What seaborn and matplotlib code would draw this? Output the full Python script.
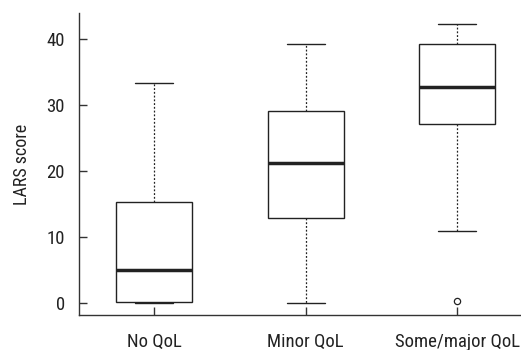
import matplotlib
matplotlib.use("Agg")
import matplotlib.pyplot as plt
import seaborn as sns
import pandas as pd

categories = ["No QoL", "Minor QoL", "Some/major QoL"]
whisker_low = [0.0, 0.0, 10.9]
q1 = [0.1, 12.9, 27.1]
median = [5.0, 21.2, 32.7]
q3 = [15.3, 29.1, 39.2]
whisker_high = [33.3, 39.2, 42.3]
outlier_cat = ["Some/major QoL"]
outlier_val = [0.3]
yticks = [0, 10, 20, 30, 40]

rows = []
for c, lo, a, m, b, hi in zip(categories, whisker_low, q1, median, q3, whisker_high):
    for v in (lo, a, m, b, hi):
        rows.append({"group": c, "LARS": v})
df = pd.DataFrame(rows)
df_out = pd.DataFrame({"group": outlier_cat, "LARS": outlier_val})

sns.set_style("ticks")
plt.rcParams["font.family"] = ["Roboto Condensed", "DejaVu Sans"]

fig = plt.figure(figsize=(5.21, 3.5), dpi=100)
ax = fig.add_axes([79/521, 1-315/350, 1-79/521, (315-13)/350])

line_c = "#222222"
sns.boxplot(data=df, x="group", y="LARS", order=categories, ax=ax,
            width=0.5, color="white", linecolor=line_c, linewidth=1.0,
            showfliers=False, whis=1.5,
            medianprops=dict(color=line_c, linewidth=2.5),
            whiskerprops=dict(color=line_c, linewidth=0.9, linestyle=(0, (1.5, 1.5))),
            capprops=dict(color=line_c, linewidth=1.0),
            capwidths=0.25)
sns.stripplot(data=df_out, x="group", y="LARS", order=categories, ax=ax,
              jitter=False, marker="o", size=4.5, color="white",
              edgecolor=line_c, linewidth=0.9)

ax.set_xlim(-0.495, 2.42)
ax.set_ylim(-1.8, 43.9)
ax.set_yticks(yticks)
ax.set_xlabel("")
ax.set_ylabel("LARS score", fontsize=13, color="#222222", labelpad=11)
ax.tick_params(axis="both", direction="in", length=6, width=1, color="#333333",
               labelsize=13.5, labelcolor="#222222")
ax.tick_params(axis="x", pad=13)
ax.tick_params(axis="y", pad=10)
for s in ("top", "right"):
    ax.spines[s].set_visible(False)
for s in ("left", "bottom"):
    ax.spines[s].set_color("#333333")
    ax.spines[s].set_linewidth(1.0)

fig.savefig("out.png", dpi=100)
